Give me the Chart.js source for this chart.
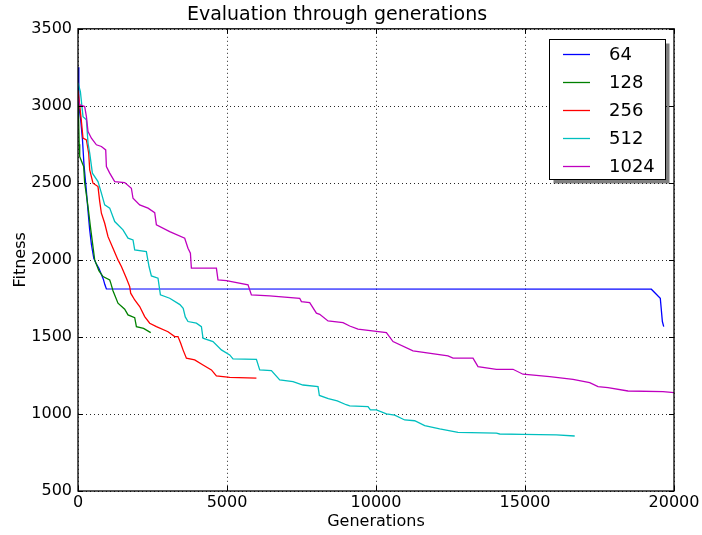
<!DOCTYPE html>
<html>
<head>
<meta charset="utf-8">
<script src="https://cdn.jsdelivr.net/npm/chart.js@4/dist/chart.umd.min.js"></script>
<style>
  html, body { margin: 0; padding: 0; background: #fff; }
  #wrap { width: 702px; height: 535px; }
</style>
</head>
<body>
<div id="wrap"><canvas id="c" width="702" height="535"></canvas></div>
<script>
// ---- data ----
const seriesLabels = ['64', '128', '256', '512', '1024'];
const seriesColors = ['#0000ff', '#008000', '#ff0000', '#00bfbf', '#bf00bf'];

const g64 = [0, 25, 30, 90, 150, 200, 280, 330, 390, 450, 530, 600, 700, 785, 850, 900, 953, 19240, 19540, 19610, 19655];
const f64 = [3250, 3230, 3000, 2910, 2780, 2620, 2450, 2330, 2200, 2100, 2010, 1980, 1945, 1905, 1875, 1840, 1812, 1810, 1751, 1600, 1567];

const g128 = [0, 40, 57, 190, 225, 336, 416, 560, 700, 839, 1064, 1100, 1174, 1342, 1567, 1678, 1903, 1960, 2200, 2440];
const f128 = [3100, 2750, 2671, 2606, 2500, 2346, 2216, 2000, 1930, 1892, 1870, 1849, 1800, 1719, 1680, 1643, 1625, 1567, 1555, 1528];

const g256 = [0, 60, 114, 168, 282, 359, 393, 503, 671, 728, 785, 896, 1007, 1174, 1342, 1456, 1624, 1735, 1768, 1903, 2070, 2238, 2406, 2631, 3020, 3245, 3356, 3446, 3524, 3638, 3916, 4195, 4477, 4644, 5091, 5987];
const f256 = [3100, 3000, 2900, 2790, 2779, 2693, 2584, 2498, 2476, 2380, 2303, 2238, 2151, 2076, 2000, 1957, 1881, 1827, 1784, 1740, 1697, 1632, 1589, 1567, 1534, 1502, 1502, 1459, 1416, 1362, 1351, 1318, 1286, 1247, 1238, 1232];

const g512 = [0, 80, 168, 282, 336, 393, 483, 671, 785, 896, 1064, 1232, 1510, 1678, 1846, 1903, 2294, 2383, 2463, 2685, 2765, 3077, 3420, 3530, 3600, 3691, 3973, 4141, 4195, 4530, 4812, 5091, 5201, 5987, 6098, 6490, 6769, 7215, 7550, 8054, 8100, 8400, 8700, 9000, 9117, 9732, 9812, 10013, 10349, 10628, 10963, 11299, 11634, 12138, 12752, 14040, 14151, 14933, 16054, 16668];
const f512 = [3150, 3093, 2930, 2909, 2758, 2693, 2563, 2508, 2433, 2357, 2336, 2249, 2195, 2141, 2130, 2065, 2054, 1957, 1896, 1881, 1773, 1751, 1710, 1686, 1630, 1600, 1589, 1567, 1492, 1470, 1416, 1383, 1357, 1355, 1286, 1281, 1221, 1210, 1188, 1177, 1120, 1100, 1085, 1060, 1052, 1047, 1026, 1026, 1000, 993, 961, 956, 924, 903, 881, 875, 870, 868, 864, 857];

const g1024 = [0, 57, 225, 282, 336, 450, 617, 785, 930, 953, 1064, 1232, 1567, 1791, 1846, 2070, 2350, 2574, 2631, 3077, 3581, 3691, 3772, 3805, 4644, 4698, 4980, 5705, 5819, 6433, 7440, 7497, 7775, 8000, 8111, 8390, 8893, 9117, 9396, 10349, 10571, 11242, 12416, 12584, 13255, 13423, 14040, 14597, 14933, 15829, 16611, 17171, 17450, 17785, 18456, 19631, 20000];
const f1024 = [3050, 3006, 2995, 2930, 2833, 2790, 2747, 2736, 2714, 2606, 2563, 2508, 2502, 2465, 2400, 2357, 2336, 2307, 2227, 2184, 2141, 2076, 2043, 1946, 1946, 1870, 1866, 1838, 1773, 1766, 1751, 1729, 1723, 1654, 1647, 1604, 1593, 1571, 1550, 1528, 1470, 1409, 1377, 1362, 1362, 1307, 1290, 1290, 1258, 1242, 1225, 1203, 1177, 1171, 1149, 1145, 1138];

const xTickValues = [0, 5000, 10000, 15000, 20000];
const yTickValues = [500, 1000, 1500, 2000, 2500, 3000, 3500];

const chartTitle = 'Evaluation through generations';
const xTitle = 'Generations';
const yTitle = 'Fitness';

// ---- build ----
const FONT = "'DejaVu Sans', 'Liberation Sans', sans-serif";
const gens = [g64, g128, g256, g512, g1024];
const fits = [f64, f128, f256, f512, f1024];

const datasets = seriesLabels.map((lab, i) => ({
  label: lab,
  data: gens[i].map((g, k) => ({ x: g, y: fits[i][k] })),
  borderColor: seriesColors[i],
  backgroundColor: seriesColors[i],
  borderWidth: 1.3,
  pointRadius: 0,
  pointHoverRadius: 0,
  tension: 0,
  fill: false,
  order: seriesLabels.length - i
}));

const mplPlugin = {
  id: 'mplStyle',
  beforeDatasetsDraw(chart) {
    const { ctx, chartArea: a, scales: { x, y } } = chart;
    ctx.save();
    ctx.strokeStyle = 'rgba(0,0,0,0.85)';
    ctx.lineWidth = 1;
    ctx.setLineDash([1, 3]);
    xTickValues.forEach(v => {
      const px = Math.round(x.getPixelForValue(v)) + 0.5;
      ctx.beginPath(); ctx.moveTo(px, a.top); ctx.lineTo(px, a.bottom); ctx.stroke();
    });
    yTickValues.forEach(v => {
      const py = Math.round(y.getPixelForValue(v)) + 0.5;
      ctx.beginPath(); ctx.moveTo(a.left, py); ctx.lineTo(a.right, py); ctx.stroke();
    });
    ctx.restore();
  },
  afterDatasetsDraw(chart) {
    const { ctx, chartArea: a, scales: { x, y } } = chart;
    ctx.save();
    ctx.setLineDash([]);
    ctx.strokeStyle = '#000';
    // inward ticks on all four sides
    ctx.lineWidth = 1;
    const tl = 5;
    xTickValues.forEach(v => {
      const px = Math.round(x.getPixelForValue(v)) + 0.5;
      ctx.beginPath(); ctx.moveTo(px, a.bottom); ctx.lineTo(px, a.bottom - tl); ctx.stroke();
      ctx.beginPath(); ctx.moveTo(px, a.top); ctx.lineTo(px, a.top + tl); ctx.stroke();
    });
    yTickValues.forEach(v => {
      const py = Math.round(y.getPixelForValue(v)) + 0.5;
      ctx.beginPath(); ctx.moveTo(a.left, py); ctx.lineTo(a.left + tl, py); ctx.stroke();
      ctx.beginPath(); ctx.moveTo(a.right, py); ctx.lineTo(a.right - tl, py); ctx.stroke();
    });
    // frame
    ctx.lineWidth = 1.3;
    ctx.strokeRect(a.left, a.top, a.right - a.left, a.bottom - a.top);

    // legend
    const bx = 549.5, by = 39.5, bw = 116, bh = 140;
    ctx.fillStyle = 'rgba(0,0,0,0.5)';
    ctx.fillRect(bx + 4, by + 4, bw, bh);
    ctx.fillStyle = '#fff';
    ctx.fillRect(bx, by, bw, bh);
    ctx.lineWidth = 1;
    ctx.strokeStyle = '#000';
    ctx.strokeRect(bx, by, bw, bh);
    ctx.font = '18px ' + FONT;
    ctx.textBaseline = 'middle';
    ctx.textAlign = 'left';
    chart.data.datasets.forEach((ds, i) => {
      const ry = 54 + i * 28;
      ctx.strokeStyle = ds.borderColor;
      ctx.lineWidth = 1.3;
      ctx.beginPath(); ctx.moveTo(563, ry + 0.5); ctx.lineTo(590, ry + 0.5); ctx.stroke();
      ctx.fillStyle = '#000';
      ctx.fillText(ds.label, 609, ry + 1);
    });
    ctx.restore();
  }
};

Chart.defaults.font.family = FONT;
Chart.defaults.color = '#000';

new Chart(document.getElementById('c'), {
  type: 'line',
  data: { datasets },
  options: {
    responsive: false,
    animation: false,
    parsing: true,
    layout: { padding: { left: 0, right: 28, top: 0, bottom: 0 } },
    plugins: {
      legend: { display: false },
      tooltip: { enabled: false },
      title: {
        display: true,
        text: chartTitle,
        color: '#000',
        font: { size: 19, weight: 'normal', family: FONT },
        padding: { top: 4, bottom: 2 }
      }
    },
    scales: {
      x: {
        type: 'linear',
        min: 0, max: 20000,
        afterBuildTicks: s => { s.ticks = xTickValues.map(v => ({ value: v })); },
        afterFit: s => { s.height = 44; },
        grid: { display: false, drawTicks: false },
        border: { display: false },
        ticks: { font: { size: 16, family: FONT }, color: '#000', padding: 2, maxRotation: 0, autoSkip: false,
                 callback: v => String(v) },
        title: { display: true, text: xTitle, color: '#000', font: { size: 16, family: FONT }, padding: { top: 0, bottom: 4 } }
      },
      y: {
        type: 'linear',
        min: 500, max: 3500,
        afterBuildTicks: s => { s.ticks = yTickValues.map(v => ({ value: v })); },
        afterFit: s => { s.width = 78; },
        grid: { display: false, drawTicks: false },
        border: { display: false },
        ticks: { font: { size: 16, family: FONT }, color: '#000', padding: 6, autoSkip: false,
                 callback: v => String(v) },
        title: { display: true, text: yTitle, color: '#000', font: { size: 16, family: FONT }, padding: { top: 11, bottom: 0 } }
      }
    }
  },
  plugins: [mplPlugin]
});
</script>
</body>
</html>
